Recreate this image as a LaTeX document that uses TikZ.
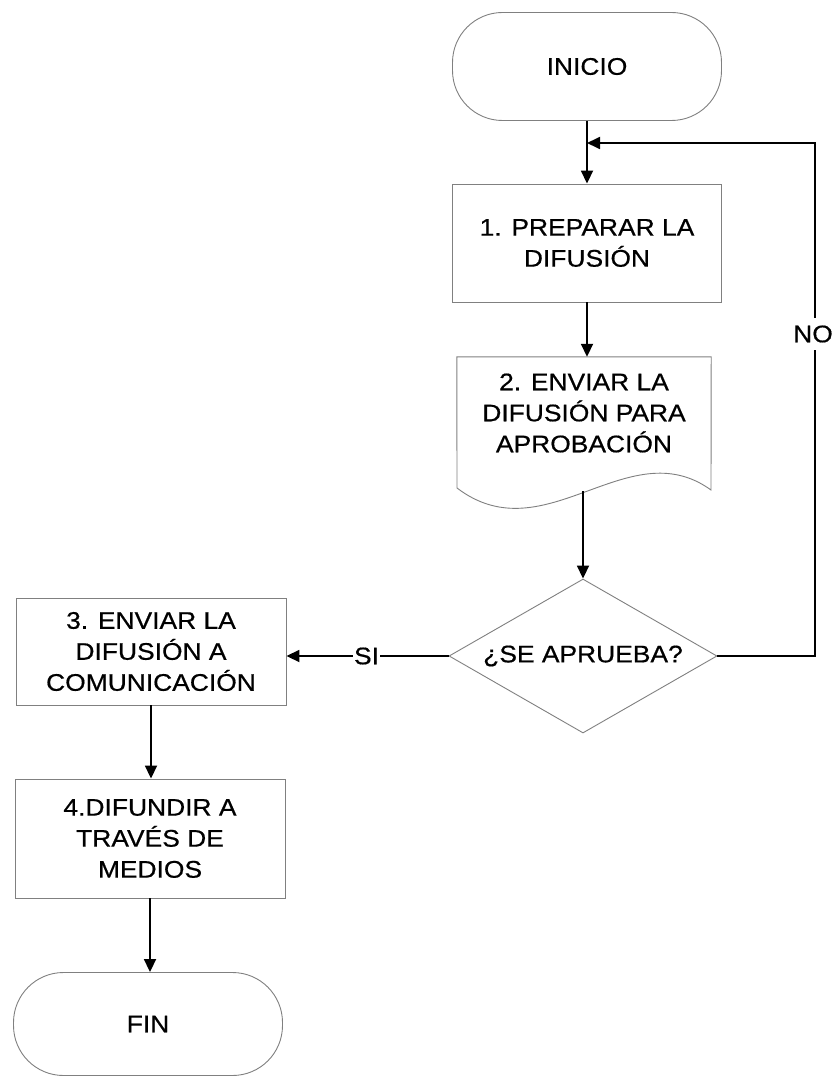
\documentclass[tikz,border=0pt]{standalone}
\usepackage{fontspec}
\setmainfont{Liberation Sans}[FakeStretch=1.1,FakeBold=0.6]
\usetikzlibrary{arrows.meta,shapes.geometric}

\begin{document}
\begin{tikzpicture}[x=1pt,y=-1pt,
  shapeline/.style={draw=black!50, line width=0.9pt},
  txt/.style={font=\fontsize{24}{31}\selectfont, align=center, inner sep=0pt},
  terminal/.style={shapeline, txt, rounded corners=50pt, minimum width=269pt, minimum height=108pt},
  process/.style={shapeline, txt, minimum width=270pt},
  decision/.style={shapeline, txt, diamond, aspect=1.74, minimum width=268pt, minimum height=154pt},
  flow/.style={line width=1.8pt, -{Triangle[length=13pt,width=12pt]}},
  tag/.style={txt, fill=white, inner xsep=1pt}
]
\fill[white] (0,0) rectangle (838,1078);
\useasboundingbox (0,0) rectangle (838,1078);

% main column
\node[terminal] (inicio) at (587,66.5) {INICIO};
\node[process, minimum width=269pt, minimum height=118pt] (prep) at (587,243) {1. PREPARAR LA\\DIFUSIÓN};

% document-shaped step: text node plus wavy outline
\node[txt, minimum width=254pt, minimum height=112pt] (doc) at (584,413) {2. ENVIAR LA\\DIFUSIÓN PARA\\APROBACIÓN};
\draw[shapeline] (doc.north west) -- (doc.north east) -- (711,490)
  .. controls (628,430) and (545,555) .. (457,488) -- cycle;
\coordinate (docout) at (583,491);

\node[decision] (ask) at (583,656) {¿SE APRUEBA?};

% left column
\node[process, minimum height=107pt] (send) at (151,651.5) {3. ENVIAR LA\\DIFUSIÓN A\\COMUNICACIÓN};
\node[process, minimum height=119pt] (spread) at (150,838.5) {4.DIFUNDIR A\\TRAVÉS DE\\MEDIOS};
\node[terminal, minimum height=103pt] (fin) at (148,1024) {FIN};

% connectors
\coordinate (merge) at (587,143);
\coordinate (loopbot) at (815,656);
\coordinate (looptop) at (815,143);

\draw[flow] (inicio.south) -- (prep.north);
\draw[flow] (prep.south) -- (doc.north -| prep.south);
\draw[flow] (docout) -- (ask.north);
\draw[flow] (ask.east) -- (loopbot) -- (looptop) -- (merge);
\node[tag, inner ysep=8pt] (no) at (813,334) {NO};
\draw[flow] (ask.west) -- (ask.west -| send.east);
\node[tag, inner ysep=2pt] (si) at (366.5,656) {SI};
\draw[flow] (send.south) -- (send.south |- spread.north);
\draw[flow] (spread.south) -- (spread.south |- fin.north);
\end{tikzpicture}
\end{document}
